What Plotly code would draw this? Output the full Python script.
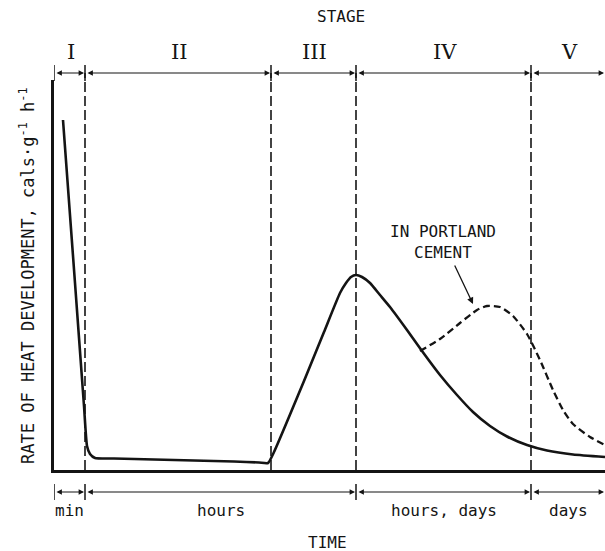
import plotly.graph_objects as go

# ---- data (arbitrary time units / arbitrary rate units) ----
time_solid = [9, 21, 30, 33, 36, 41, 60, 100, 140, 180, 205, 214, 220, 250, 270, 286, 292, 297, 302, 308, 316, 326, 336, 353, 368, 386, 403, 419, 436, 453, 473, 493, 519, 551]
rate_solid = [350, 187, 64, 24, 16, 12, 11.5, 10.5, 9.5, 8.5, 7.5, 7, 18, 89, 138, 177, 187, 193, 195, 193, 187, 175, 163, 140, 119, 95, 75, 58, 44, 33.5, 25, 19.5, 15.5, 13]

time_cement = [366, 386, 406, 423, 433, 446, 459, 473, 486, 499, 509, 519, 536, 551]
rate_cement = [119, 131, 147, 160, 164, 163, 154, 136, 110, 80, 60, 46, 33, 25]

stage_bounds = [0, 31, 217, 302, 477, 551]
stage_labels = ["I", "II", "III", "IV", "V"]
time_bounds = [0, 31, 302, 477, 551]
time_labels = ["min", "hours", "hours, days", "days"]

INK = "#141414"
FONT = "DejaVu Sans Mono"

PLOT_H = 390.0
def py(pix):
    return (470.0 - pix) / PLOT_H
def px(pix):
    return (pix - 54.0) / 551.0

fig = go.Figure()
fig.add_trace(go.Scatter(x=time_solid, y=rate_solid, mode="lines",
                         line=dict(color=INK, width=2.6, shape="spline", smoothing=0.5),
                         hoverinfo="skip", showlegend=False))
fig.add_trace(go.Scatter(x=time_cement, y=rate_cement, mode="lines",
                         line=dict(color=INK, width=2.3, dash="7px,4px", shape="spline", smoothing=0.6),
                         hoverinfo="skip", showlegend=False))

shapes = []
annotations = []
top_row = py(73)
bot_row = py(492)
tick_h = 8.0 / PLOT_H

for b in stage_bounds[1:-1]:
    shapes.append(dict(type="line", xref="x", yref="paper", x0=b, x1=b, y0=0, y1=top_row,
                       line=dict(color=INK, width=1.6, dash="10px,4px")))
for b in stage_bounds[:-1]:
    shapes.append(dict(type="line", xref="x", yref="paper", x0=b, x1=b,
                       y0=top_row - tick_h, y1=top_row + tick_h, line=dict(color=INK, width=1.5)))
for b in time_bounds[:-1]:
    shapes.append(dict(type="line", xref="x", yref="paper", x0=b, x1=b,
                       y0=bot_row - tick_h, y1=bot_row + tick_h, line=dict(color=INK, width=1.5)))

def double_arrow(a, b, yrow):
    annotations.append(dict(text="", xref="x", yref="paper", x=b - 1, y=yrow,
                            axref="x", ax=a + 1, ayref="pixel", ay=0,
                            showarrow=True, arrowside="end+start", arrowhead=2,
                            arrowsize=0.9, arrowwidth=1.2, arrowcolor=INK,
                            standoff=0, startstandoff=0))

def label(text, x, y, size, family=FONT, xref="paper", angle=0):
    annotations.append(dict(text=text, xref=xref, yref="paper", x=x, y=y,
                            xanchor="center", yanchor="middle", textangle=angle,
                            showarrow=False, align="center",
                            font=dict(family=family, size=size, color=INK)))

for i, lab in enumerate(stage_labels):
    a, b = stage_bounds[i], stage_bounds[i + 1]
    double_arrow(a, b, top_row)
    label(lab, (a + b) / 2 + 1, py(52), 21, family="DejaVu Serif", xref="x")

for i, lab in enumerate(time_labels):
    a, b = time_bounds[i], time_bounds[i + 1]
    double_arrow(a, b, bot_row)
    label(lab, (a + b) / 2, py(510), 16, xref="x")

label("STAGE", px(341), py(17), 16)
label("TIME", px(327), py(542), 16)
label("RATE OF HEAT DEVELOPMENT, cals·g<sup>-1</sup> h<sup>-1</sup>", px(27), py(276), 17, angle=-90)
label("IN PORTLAND<br>CEMENT", px(443), py(242), 16)

annotations.append(dict(text="", xref="x", yref="y", x=473 - 54, y=470 - 304,
                        axref="x", ax=454 - 54, ayref="y", ay=470 - 264,
                        showarrow=True, arrowhead=2, arrowsize=1, arrowwidth=1.3,
                        arrowcolor=INK, standoff=0))

fig.update_layout(
    width=605, height=551,
    margin=dict(l=54, r=0, t=80, b=81),
    paper_bgcolor="white", plot_bgcolor="white",
    shapes=shapes, annotations=annotations,
    xaxis=dict(range=[0, 551], showline=True, linewidth=2.5, linecolor=INK,
               showticklabels=False, ticks="", showgrid=False, zeroline=False),
    yaxis=dict(range=[0, 390], showline=True, linewidth=2.5, linecolor=INK,
               showticklabels=False, ticks="", showgrid=False, zeroline=False),
)

fig.write_html("out.html")
